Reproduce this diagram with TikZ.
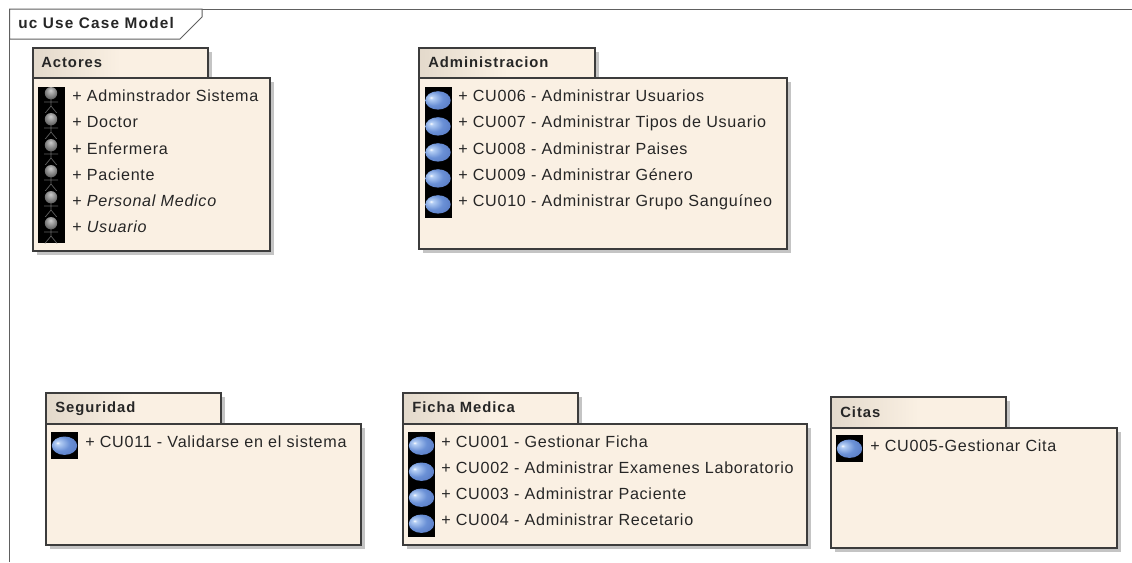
\documentclass[tikz,border=0pt]{standalone}
\usepackage{fontspec}
\setmainfont{Liberation Sans}
\newfontfamily\rowfont[LetterSpace=4.4]{Liberation Sans}
\newfontfamily\tabfont[LetterSpace=6.5]{Liberation Sans}
\newfontfamily\titlefont[LetterSpace=8]{Liberation Sans}
\definecolor{pkgfill}{HTML}{FAF0E3}
\definecolor{pkgtab}{HTML}{E3D9CB}
\definecolor{pkgline}{HTML}{3C3C3C}
\definecolor{shade}{HTML}{C4C4C4}
\definecolor{framecol}{HTML}{606060}
\definecolor{ucedge}{HTML}{2A4292}
\definecolor{ucmid}{HTML}{6A90D6}
\definecolor{uclight}{HTML}{B5CFF5}
\pgfdeclareradialshading{ucball}{\pgfpoint{-14bp}{8bp}}{%
  color(0bp)=(white); color(4bp)=(uclight); color(20bp)=(ucmid); color(38bp)=(ucmid!70!ucedge); color(50bp)=(ucedge); color(70bp)=(ucedge)}
\pgfdeclareradialshading{actball}{\pgfpoint{-2bp}{12bp}}{%
  color(0bp)=(black!20); color(14bp)=(black!40); color(34bp)=(black!68); color(55bp)=(black!55); color(70bp)=(black!55)}
\tikzset{
  x=0.75pt,y=-0.75pt,
  framebox/.style={draw=framecol,line width=0.75pt,fill=white},
  pkgbody/.style={draw=pkgline,line width=1.1pt,fill=pkgfill},
  pkgtabbox/.style={draw=pkgline,line width=1.1pt,left color=pkgtab,right color=pkgfill,middle color=pkgfill,shading angle=90},
  pkgshadow/.style={fill=shade,draw=none},
  rowtext/.style={anchor=base west,inner sep=0pt,font=\rowfont\fontsize{12.1pt}{13pt}\selectfont,text=black!85},
  tabtext/.style={anchor=base west,inner sep=0pt,font=\tabfont\bfseries\fontsize{11.1pt}{13pt}\selectfont,text=black!85},
  titletext/.style={anchor=base west,inner sep=0pt,font=\titlefont\bfseries\fontsize{11.5pt}{13pt}\selectfont,text=black!85},
  pics/ucicon/.style={code={
    \fill[black] (0,0) rectangle (27,27);
    \shade[shading=ucball] (13.5,13.7) ellipse (12.7 and 9.2);
  }},
  pics/actoricon/.style={code={
    \fill[black] (0,0) rectangle (27,26.3);
    \draw[black!62,line width=.5pt] (13,10) -- (13,19) (6,15) -- (20,15) (13,19) -- (7,26.3) (13,19) -- (19,26.3);
    \shade[shading=actball] (13,6.2) circle (6.2);
  }}
}
\begin{document}
\begin{tikzpicture}
\useasboundingbox (0,0) rectangle (1132,562);
\fill[white] (0,0) rectangle (1132,562);
% outer frame
\draw[framecol,line width=0.75pt] (9.5,562) -- (9.5,9) -- (1132,9);
\draw[framebox] (9.5,9) -- (202,9) -- (202,17) -- (180,39) -- (9.5,39) -- cycle;
\node[titletext] (title) at (18,28) {uc Use Case Model};

% Actores
\fill[pkgshadow] (37,52) rectangle (212,80);
\fill[pkgshadow] (37,82) rectangle (274,255);
\draw[pkgtabbox] (33,48) rectangle (208,78);
\draw[pkgbody] (33,78) rectangle (270,251);
\node[tabtext] (actores) at (41,67) {Actores};
\foreach \y in {87,113,139,165,191,217}{\pic at (38,\y) {actoricon};}
\node[rowtext] (a1) at (72,101.7) {+ Adminstrador Sistema};
\node[rowtext] (a2) at (72,127.7) {+ Doctor};
\node[rowtext] (a3) at (72,154) {+ Enfermera};
\node[rowtext] (a4) at (72,180) {+ Paciente};
\node[rowtext] (a5) at (72,206) {+ \textit{Personal Medico}};
\node[rowtext] (a6) at (72,232) {+ \textit{Usuario}};

% Administracion
\fill[pkgshadow] (423,52) rectangle (599,80);
\fill[pkgshadow] (423,82) rectangle (791,253);
\draw[pkgtabbox] (419,48) rectangle (595,78);
\draw[pkgbody] (419,78) rectangle (787,249);
\node[tabtext] (admin) at (428,67) {Administracion};
\foreach \y in {86.7,112.7,138.7,164.7,190.7}{\pic at (424.5,\y) {ucicon};}
\node[rowtext] (b1) at (458,101.7) {+ CU006 - Administrar Usuarios};
\node[rowtext] (b2) at (458,127.7) {+ CU007 - Administrar Tipos de Usuario};
\node[rowtext] (b3) at (458,154) {+ CU008 - Administrar Paises};
\node[rowtext] (b4) at (458,180) {+ CU009 - Administrar Género};
\node[rowtext] (b5) at (458,206) {+ CU010 - Administrar Grupo Sanguíneo};

% Seguridad
\fill[pkgshadow] (50,397) rectangle (225,426);
\fill[pkgshadow] (50,428) rectangle (365,549);
\draw[pkgtabbox] (46,393) rectangle (221,424);
\draw[pkgbody] (46,424) rectangle (361,545);
\node[tabtext] (seg) at (55,412) {Seguridad};
\pic at (51,432) {ucicon};
\node[rowtext] (c1) at (85,447.3) {+ CU011 - Validarse en el sistema};

% Ficha Medica
\fill[pkgshadow] (407,397) rectangle (582,426);
\fill[pkgshadow] (407,428) rectangle (811,549);
\draw[pkgtabbox] (403,393) rectangle (578,424);
\draw[pkgbody] (403,424) rectangle (807,545);
\node[tabtext] (ficha) at (412,412) {Ficha Medica};
\foreach \y in {432,458,484,510}{\pic at (408,\y) {ucicon};}
\node[rowtext] (d1) at (441,447.3) {+ CU001 - Gestionar Ficha};
\node[rowtext] (d2) at (441,473) {+ CU002 - Administrar Examenes Laboratorio};
\node[rowtext] (d3) at (441,499) {+ CU003 - Administrar Paciente};
\node[rowtext] (d4) at (441,525) {+ CU004 - Administrar Recetario};

% Citas
\fill[pkgshadow] (835,401) rectangle (1010,430);
\fill[pkgshadow] (835,432) rectangle (1121,552);
\draw[pkgtabbox] (831,397) rectangle (1006,428);
\draw[pkgbody] (831,428) rectangle (1117,548);
\node[tabtext] (citas) at (840,417) {Citas};
\pic at (836,435) {ucicon};
\node[rowtext] (e1) at (870,451) {+ CU005-Gestionar Cita};
\end{tikzpicture}
\end{document}
